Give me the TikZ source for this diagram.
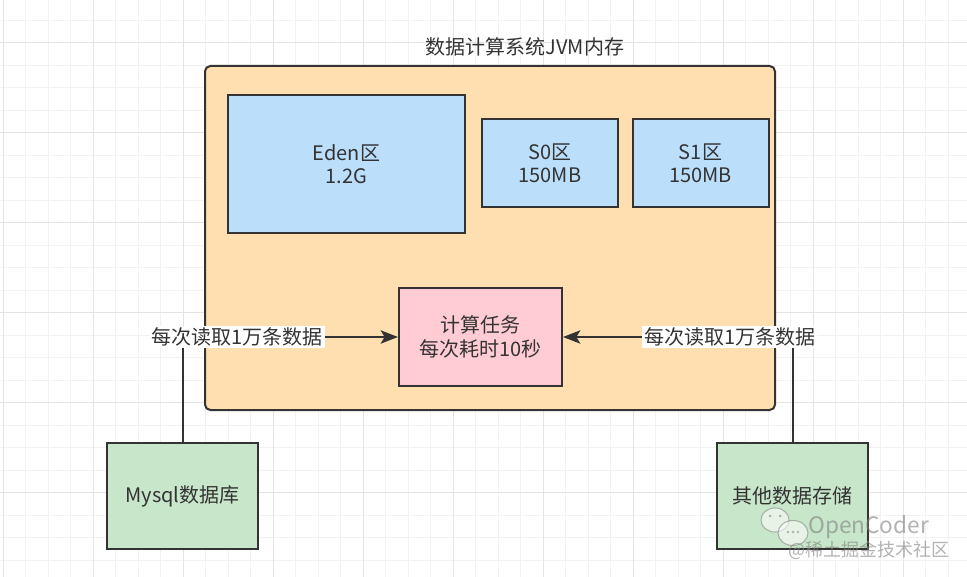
\documentclass[tikz,border=0pt]{standalone}
\usepackage{fontspec}
\setmainfont{Noto Sans CJK SC}
\usetikzlibrary{arrows.meta, positioning}
\definecolor{gridminor}{HTML}{F2F2F2}
\definecolor{gridmajor}{HTML}{E4E4E4}
\definecolor{edgedark}{HTML}{333333}
\definecolor{jvmfill}{HTML}{FFDFAF}
\definecolor{heapfill}{HTML}{BBDEFB}
\definecolor{taskfill}{HTML}{FFCCD3}
\definecolor{storefill}{HTML}{C8E6C9}

\begin{document}
\begin{tikzpicture}[
  x=0.75pt, y=-0.75pt,
  box/.style={draw=edgedark, line width=1.5pt, align=center, font=\fontsize{15}{17.5}\selectfont,
    text=edgedark, inner sep=0pt},
  heap/.style={box, fill=heapfill, minimum width=#1},
  heap/.default=102pt,
  store/.style={box, fill=storefill, minimum width=113.25pt, minimum height=79pt},
  readlabel/.style={fill=white, font=\fontsize{15}{17.5}\selectfont, text=edgedark, inner sep=1.5pt},
  arrow/.style={-{Stealth[length=13pt, width=10pt, inset=3pt]}, line width=1.5pt, draw=edgedark},
]
  \useasboundingbox (0,0) rectangle (967,577);
  \clip (0,0) rectangle (967,577);
  \fill[white] (0,0) rectangle (967,577);
  % background grid
  \foreach \k in {0,...,42} \draw[gridminor, line width=0.75pt] ({3+22.5*\k},0) -- ({3+22.5*\k},577);
  \foreach \k in {0,...,26} \draw[gridminor, line width=0.75pt] (0,{-2.3+22.5*\k}) -- (967,{-2.3+22.5*\k});
  \foreach \k in {0,...,10} \draw[gridmajor, line width=0.75pt] ({3+90*\k},0) -- ({3+90*\k},577);
  \foreach \k in {0,...,6} \draw[gridmajor, line width=0.75pt] (0,{42.7+90*\k}) -- (967,{42.7+90*\k});

  % JVM memory
  \node[box, fill=jvmfill, rounded corners=4pt, minimum width=427.5pt, minimum height=258pt] (jvm) at (490,238) {};
  \node[font=\fontsize{15}{17.5}\selectfont, text=edgedark] (jvmtitle) at (525,47) {数据计算系统JVM内存};
  \node[heap=177.75pt, minimum height=103.5pt] (eden) at (346.5,164) {Eden区\\1.2G};
  \node[heap, minimum height=66pt] (s0) at (550,163.5) {S0区\\150MB};
  \node[heap, minimum height=66pt] (s1) at (700.5,163.5) {S1区\\150MB};
  \node[box, fill=taskfill, minimum width=122.25pt, minimum height=73.5pt] (task) at (480.5,337) {计算任务\\每次耗时10秒};

  % data sources
  \node[store] (mysql) at (182.5,496) {Mysql数据库};
  \node[store] (other) at (792.5,496) {其他数据存储};

  \draw[arrow] (mysql.north) |- (task.west) node[readlabel, pos=0.627] (readL) {每次读取1万条数据};
  \draw[arrow] (other.north) |- (task.east) node[readlabel, pos=0.637] (readR) {每次读取1万条数据};

  % watermark
  \begin{scope}[opacity=0.55]
    \draw[gray, fill=white, line width=0.8pt] (775,520) ellipse (14 and 12);
    \draw[gray, fill=white, line width=0.8pt] (793,533) ellipse (15 and 12.5);
    \foreach \dx in {-5,5} \fill[gray] ({775+\dx},516) circle (1.5);
    \foreach \dx in {-5,0,5} \fill[gray] ({793+\dx},532) circle (1.3);
  \end{scope}
  \node[text=gray, opacity=0.6, font=\fontsize{17}{19}\selectfont, anchor=west, inner sep=0pt] (wmname) at (808,527) {OpenCoder};
  \node[text=gray, opacity=0.6, font=\fontsize{13.5}{15}\selectfont, anchor=west, inner sep=0pt] (wmsite) at (788,550) {@稀土掘金技术社区};
\end{tikzpicture}
\end{document}
